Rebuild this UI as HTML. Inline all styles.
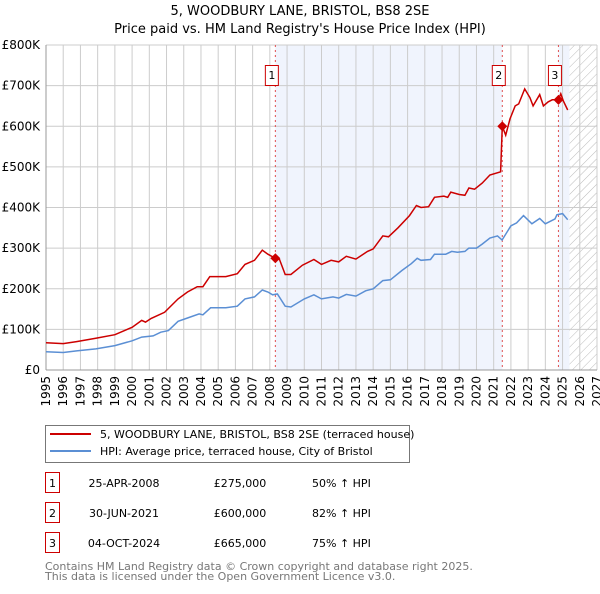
<!DOCTYPE html>
<html><head><meta charset="utf-8"><style>
body{margin:0;width:600px;height:590px;background:#fff;font-family:"DejaVu Sans","Liberation Sans",sans-serif;overflow:hidden}
svg text{font-family:"DejaVu Sans","Liberation Sans",sans-serif}
</style></head><body>
<svg id="c" width="600" height="590">
<defs><pattern id="hatch" width="6" height="6" patternUnits="userSpaceOnUse" patternTransform="rotate(45)"><line x1="0" y1="0" x2="0" y2="6" stroke="#bbb" stroke-width="1"/></pattern></defs>
<text x="300" y="15" text-anchor="middle" font-size="13">5, WOODBURY LANE, BRISTOL, BS8 2SE</text>
<text x="300" y="33" text-anchor="middle" font-size="13">Price paid vs. HM Land Registry's House Price Index (HPI)</text>
<g id="plot"></g>
<g>
<rect x="45.5" y="425.5" width="364" height="37" fill="#fff" stroke="#777"/>
<line x1="50" y1="434" x2="91" y2="434" stroke="#cc0000" stroke-width="2"/>
<text x="100" y="438" font-size="11">5, WOODBURY LANE, BRISTOL, BS8 2SE (terraced house)</text>
<line x1="50" y1="451" x2="91" y2="451" stroke="#5b8fd4" stroke-width="2"/>
<text x="100" y="455" font-size="11">HPI: Average price, terraced house, City of Bristol</text>
</g>
<g id="table" font-size="11"></g>
<text x="45" y="570" font-size="11" fill="#777">Contains HM Land Registry data © Crown copyright and database right 2025.</text>
<text x="45" y="580" font-size="11" fill="#777">This data is licensed under the Open Government Licence v3.0.</text>
</svg>
<script>
const redYears=[1995.0,1996.0,1996.78,1997.89,1999.0,2000.0,2000.56,2000.78,2001.11,2001.89,2002.67,2003.22,2003.78,2004.11,2004.51,2005.44,2006.11,2006.56,2007.11,2007.56,2007.89,2008.32,2008.56,2008.89,2009.22,2009.89,2010.56,2011.0,2011.56,2012.0,2012.44,2013.0,2013.67,2014.0,2014.56,2014.89,2015.44,2016.11,2016.51,2016.78,2017.22,2017.56,2018.11,2018.33,2018.51,2019.0,2019.33,2019.56,2019.89,2020.33,2020.78,2021.4,2021.5,2021.7,2021.95,2022.25,2022.45,2022.8,2023.11,2023.29,2023.67,2023.89,2024.16,2024.4,2024.76,2024.9,2025.05,2025.3];
const redValues=[67,65,70,78,87,105,122,118,127,142,175,192,205,205,230,230,237,260,270,295,285,275,272,235,235,258,272,260,270,266,280,273,292,298,330,328,350,380,405,400,402,425,428,425,438,432,430,448,445,460,480,488,600,578,618,650,655,692,670,650,678,650,660,665,665,680,662,640];
const hpiYears=[1995.0,1996.0,1996.78,1997.89,1999.0,2000.0,2000.56,2001.22,2001.67,2002.11,2002.67,2003.22,2003.89,2004.11,2004.56,2005.44,2006.11,2006.56,2007.11,2007.56,2007.89,2008.16,2008.44,2008.89,2009.22,2010.0,2010.56,2011.0,2011.67,2012.0,2012.44,2013.0,2013.56,2014.0,2014.56,2015.0,2015.67,2016.22,2016.56,2016.78,2017.33,2017.56,2018.22,2018.56,2018.89,2019.33,2019.56,2020.0,2020.33,2020.78,2021.22,2021.49,2022.0,2022.33,2022.73,2023.22,2023.67,2024.0,2024.56,2024.67,2025.0,2025.3];
const hpiValues=[45,43,47,52,60,72,81,84,93,97,120,128,138,136,153,153,157,175,180,197,192,185,187,157,155,175,185,175,180,177,186,182,195,200,220,222,245,262,275,270,272,285,285,292,290,292,300,300,310,325,330,320,355,362,380,360,373,360,372,382,385,370];
const yTicks=[0,100,200,300,400,500,600,700,800];
const yTickLabels=["£0","£100K","£200K","£300K","£400K","£500K","£600K","£700K","£800K"];
const xTicks=[1995,1996,1997,1998,1999,2000,2001,2002,2003,2004,2005,2006,2007,2008,2009,2010,2011,2012,2013,2014,2015,2016,2017,2018,2019,2020,2021,2022,2023,2024,2025,2026,2027];
const saleLabels=["1","2","3"];
const saleYears=[2008.32,2021.5,2024.76];
const saleValues=[275,600,665];
const saleDates=["25-APR-2008","30-JUN-2021","04-OCT-2024"];
const salePrices=["£275,000","£600,000","£665,000"];
const saleHpi=["50% ↑ HPI","82% ↑ HPI","75% ↑ HPI"];
const dataEnd=2025.4;

const X0=46,X1=597,Y0=370,Y1=45;
const xs=y=>X0+(y-1995)/(2027-1995)*(X1-X0);
const ys=v=>Y0-v/800*(Y0-Y1);
const NS="http://www.w3.org/2000/svg";
const plot=document.getElementById('plot');
function mk(tag,attrs,parent){const e=document.createElementNS(NS,tag);for(const k in attrs)e.setAttribute(k,attrs[k]);(parent||plot).appendChild(e);return e;}

let e=mk('rect',{x:xs(saleYears[0]),y:Y1,width:xs(saleYears[1])-xs(saleYears[0]),height:Y0-Y1,fill:'#f0f4fd'});


e=mk('rect',{x:xs(saleYears[2]),y:Y1,width:xs(dataEnd)-xs(saleYears[2]),height:Y0-Y1,fill:'#f0f4fd'});


e=mk('rect',{x:xs(dataEnd),y:Y1,width:X1-xs(dataEnd),height:Y0-Y1,fill:'url(#hatch)'});


yTicks.forEach((t,i)=>{
  mk('line',{x1:X0,x2:X1,y1:ys(t),y2:ys(t),stroke:'#ccc'});
  e=mk('text',{x:X0-6,y:ys(t)+4,'text-anchor':'end','font-size':12});
  e.textContent=yTickLabels[i];
  
  
});
xTicks.forEach(t=>{
  mk('line',{x1:xs(t),x2:xs(t),y1:Y1,y2:Y0,stroke:'#ccc'});
  e=mk('text',{x:xs(t)+4,y:Y0+6,'text-anchor':'end','font-size':12,transform:`rotate(-90 ${xs(t)+4} ${Y0+6})`});
  e.textContent=t;
  
  
});
mk('line',{x1:X0,x2:X0,y1:Y1,y2:Y0,stroke:'#999'});
mk('line',{x1:X0,x2:X1,y1:Y0,y2:Y0,stroke:'#999'});
saleYears.forEach((s,i)=>{
  e=mk('line',{x1:xs(s),x2:xs(s),y1:Y1,y2:Y0,stroke:'#e05050','stroke-dasharray':'2,3'});
  
  
});
function line(xa,va,col,name){
  const d=xa.map((x,i)=>(i?'L':'M')+xs(x).toFixed(1)+','+ys(va[i]).toFixed(1)).join('');
  const p=mk('path',{d:d,fill:'none',stroke:col,'stroke-width':1.5});
  
  
}
line(hpiYears,hpiValues,'#5b8fd4','hpi-line');
line(redYears,redValues,'#cc0000','property-line');
saleYears.forEach((s,i)=>{
  const cx=xs(s),cy=ys(saleValues[i]);
  e=mk('path',{d:`M${cx},${cy-5}L${cx+5},${cy}L${cx},${cy+5}L${cx-5},${cy}Z`,fill:'#cc0000'});
  
  
  const g=mk('g',{});
  
  
  mk('rect',{x:cx-10,y:65.5,width:13,height:20,fill:'#fff',stroke:'#cc0000'},g);
  const t=mk('text',{x:cx-3.5,y:79,'text-anchor':'middle','font-size':11},g);
  t.textContent=saleLabels[i];
});
const tbl=document.getElementById('table');
saleLabels.forEach((l,i)=>{
  const y=484+i*30;
  const g=mk('g',{},tbl);
  
  
  mk('rect',{x:45.5,y:y-11.5,width:14,height:20,fill:'#fff',stroke:'#cc0000'},g);
  let t=mk('text',{x:52.5,y:y+3,'text-anchor':'middle'},g);t.textContent=l;
  t=mk('text',{x:124,y:y+3,'text-anchor':'middle'},g);t.textContent=saleDates[i];
  t=mk('text',{x:240,y:y+3,'text-anchor':'middle'},g);t.textContent=salePrices[i];
  t=mk('text',{x:312,y:y+3},g);t.textContent=saleHpi[i];
});
</script>
</body></html>
